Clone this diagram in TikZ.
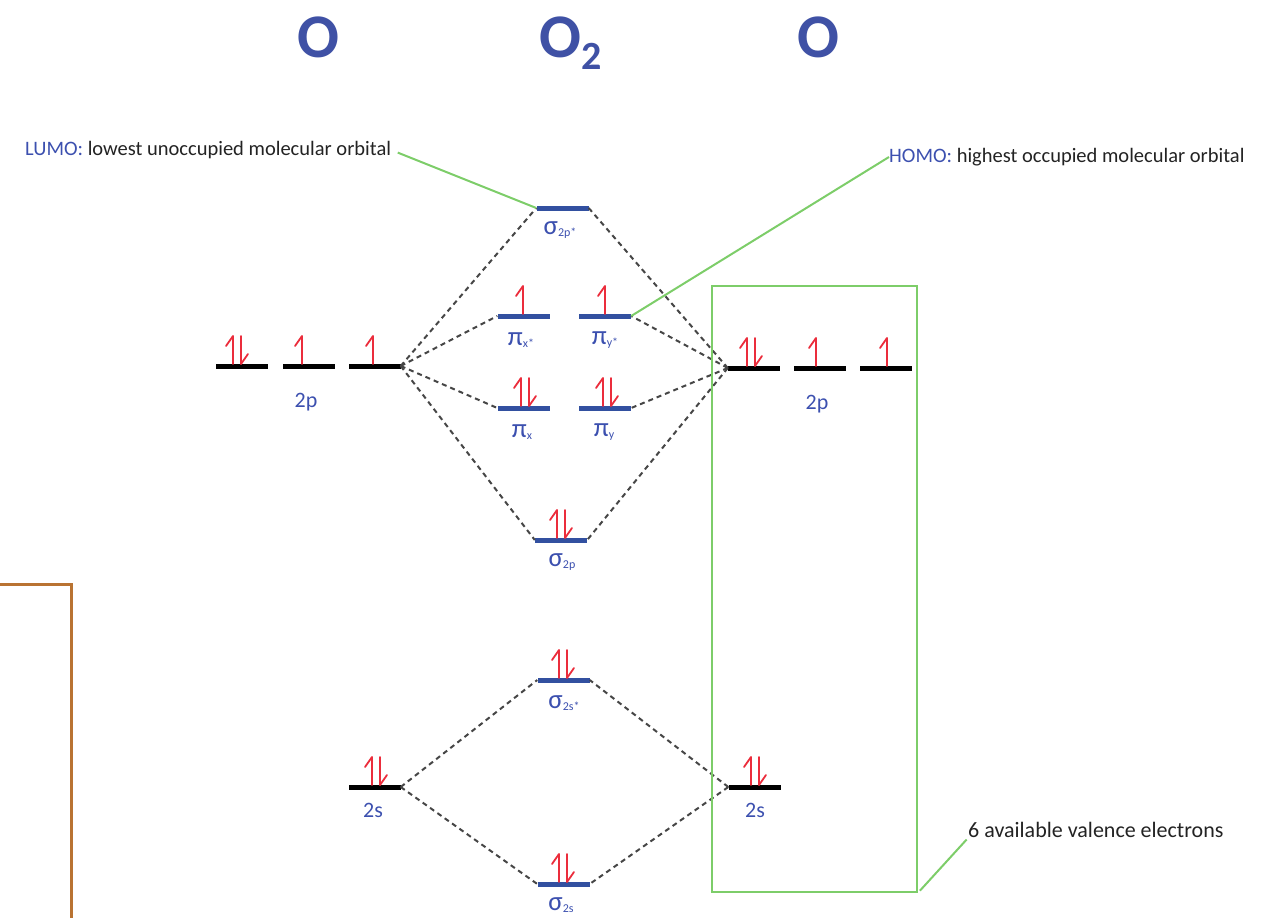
\documentclass[tikz,border=0pt]{standalone}
\usepackage{fontspec}
\setmainfont{Carlito}
\definecolor{tblue}{RGB}{63,81,165}
\definecolor{lblue}{RGB}{60,80,175}
\definecolor{mo}{RGB}{50,80,160}
\definecolor{ered}{RGB}{235,45,60}
\definecolor{gline}{RGB}{125,205,105}
\definecolor{dgray}{RGB}{70,70,70}
\definecolor{brownl}{RGB}{185,115,50}
\definecolor{txt}{RGB}{35,35,35}
\newcommand{\orb}[2]{{\fontsize{27}{27}\selectfont #1}\raisebox{-2pt}{\fontsize{12}{12}\selectfont #2}}
\begin{document}
\begin{tikzpicture}[x=1pt,y=-1pt,
  ao/.style={fill=black, inner sep=0, minimum width=52pt, minimum height=5pt},
  mol/.style={fill=mo, inner sep=0, minimum width=52pt, minimum height=5pt},
  lab/.style={text=lblue, font=\fontsize{22}{22}\selectfont, inner sep=0},
  corr/.style={draw=dgray, line width=2pt, dash pattern=on 5pt off 4pt},
  callout/.style={draw=gline, line width=2pt},
  titletext/.style={text=tblue, font=\fontsize{62}{62}\selectfont\bfseries, inner sep=0, anchor=base},
  note/.style={text=txt, font=\fontsize{20.5}{20.5}\selectfont, inner sep=0},
  spin/.style={draw=ered, line width=1.8pt, line cap=round, line join=round},
  upspin/.pic={\draw[spin] (0,0) -- (0,-28) -- (-7,-18);},
  pairspin/.pic={\draw[spin] (-4,0) -- (-4,-28) -- (-11,-18);
                 \draw[spin] (4,-28) -- (4,0) -- (11,-10);}
]
\useasboundingbox (0,0) rectangle (1275,918);

% titles
\node[titletext] (tO1) at (318,57) {O};
\node[titletext, anchor=base west] (tO2) at (539,57) {O\raisebox{-12pt}{\fontsize{40}{40}\selectfont 2}};
\node[titletext] (tO3) at (818,57) {O};

% left O levels
\node[ao] (l2p1) at (241.5,366) {};
\node[ao] (l2p2) at (309,366) {};
\node[ao] (l2p3) at (374.5,366) {};
\node[lab] (l2pl) at (306,402) {2p};
\node[ao] (l2s) at (374.5,787) {};
\node[lab] (l2sl) at (373,810) {2s};

% right O levels
\node[ao] (r2p1) at (754,368) {};
\node[ao] (r2p2) at (820,368) {};
\node[ao] (r2p3) at (886,368) {};
\node[lab] (r2pl) at (817,404) {2p};
\node[ao] (r2s) at (754.5,787) {};
\node[lab] (r2sl) at (755,810) {2s};

% molecular orbitals
\node[mol] (s2ps) at (562.5,208) {};
\node[mol] (pixs) at (523.5,316) {};
\node[mol] (piys) at (605,316) {};
\node[mol] (pix) at (523.5,408) {};
\node[mol] (piy) at (605,408) {};
\node[mol] (s2p) at (561,540) {};
\node[mol] (s2ss) at (563.5,680) {};
\node[mol] (s2s) at (563.5,884) {};

\node[lab] (s2psl) at (560,230) {\orb{σ}{2p*}};
\node[lab] (pixsl) at (521,340) {\orb{π}{x*}};
\node[lab] (piysl) at (605,340) {\orb{π}{y*}};
\node[lab] (pixl) at (522,432) {\orb{π}{x}};
\node[lab] (piyl) at (604,432) {\orb{π}{y}};
\node[lab] (s2pl) at (562,562) {\orb{σ}{2p}};
\node[lab] (s2ssl) at (564,703) {\orb{σ}{2s*}};
\node[lab] (s2sl) at (561,905) {\orb{σ}{2s}};

% electrons
\pic at (237,364) {pairspin};
\pic at (302,364) {upspin};
\pic at (373,364) {upspin};
\pic at (751,366) {pairspin};
\pic at (816,366) {upspin};
\pic at (887,366) {upspin};
\pic at (523,314) {upspin};
\pic at (605,314) {upspin};
\pic at (525,406) {pairspin};
\pic at (607,406) {pairspin};
\pic at (561,538) {pairspin};
\pic at (563,678) {pairspin};
\pic at (563,882) {pairspin};
\pic at (376,785) {pairspin};
\pic at (755,785) {pairspin};

% correlation lines
\foreach \m in {s2ps,pixs,pix,s2p} \draw[corr] (l2p3.east) -- (\m.west);
\foreach \m in {s2ps,piys,piy,s2p} \draw[corr] (r2p1.west) -- (\m.east);
\foreach \m in {s2ss,s2s} \draw[corr] (l2s.east) -- (\m.west);
\foreach \m in {s2ss,s2s} \draw[corr] (r2s.west) -- (\m.east);

% callouts
\node[note, anchor=west] (lumo) at (25,150) {\textcolor{lblue}{LUMO:} lowest unoccupied molecular orbital};
\node[note, anchor=west] (homo) at (889,157) {\textcolor{lblue}{HOMO:} highest occupied molecular orbital};
\draw[callout, shorten <=7pt] (lumo.east) -- (s2ps.west);
\draw[callout] (piys.east) -- (homo.west);

\node[draw=gline, line width=1.8pt, minimum width=205pt, minimum height=606pt, inner sep=0] (vbox) at (814.5,589) {};
\node[note, font=\fontsize{22}{22}\selectfont, anchor=south west] (val) at (968,838) {6 available valence electrons};
\draw[callout, shorten <=3pt, shorten >=2pt] (vbox.south east) -- (val.south west);

% brown frame fragment
\draw[brownl, line width=3pt] (0,584) -- (71,584) -- (71,920);
\end{tikzpicture}
\end{document}
